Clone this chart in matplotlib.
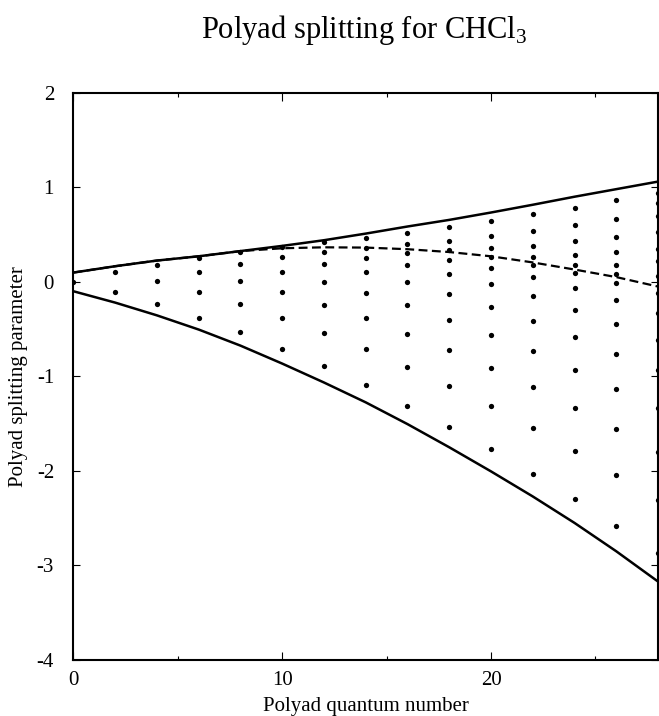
import numpy as np
import matplotlib
matplotlib.use('Agg')
from matplotlib import pyplot as plt
from matplotlib.ticker import MultipleLocator

plt.rcParams['font.family'] = ['Liberation Serif', 'DejaVu Serif']
plt.rcParams['mathtext.fontset'] = 'custom'
plt.rcParams['mathtext.rm'] = 'Liberation Serif'
plt.rcParams['axes.unicode_minus'] = False

# polyad quantum number for curves and level columns
polyad_n = [0, 2, 4, 6, 8, 10, 12, 14, 16, 18, 20, 22, 24, 26, 28]

# envelope curves
upper_bound = [0.098, 0.165, 0.225, 0.27, 0.325, 0.38, 0.44, 0.51, 0.585, 0.655, 0.733, 0.815, 0.90, 0.98, 1.06]
lower_bound = [-0.10, -0.22, -0.355, -0.505, -0.675, -0.865, -1.065, -1.275, -1.505, -1.75, -2.005, -2.27, -2.55, -2.85, -3.17]
dashed_curve = [0.098, 0.165, 0.225, 0.27, 0.325, 0.355, 0.365, 0.362, 0.345, 0.315, 0.27, 0.205, 0.13, 0.05, -0.05]

# splitting parameter of each level in a polyad
levels = [
    [0.0],
    [0.103, -0.109],
    [0.18, 0.005, -0.235],
    [0.257, 0.103, -0.109, -0.378],
    [0.32, 0.19, 0.007, -0.236, -0.536],
    [0.367, 0.261, 0.106, -0.109, -0.378, -0.709],
    [0.416, 0.32, 0.19, 0.003, -0.24, -0.54, -0.892],
    [0.46, 0.36, 0.257, 0.103, -0.116, -0.384, -0.712, -1.09],
    [0.515, 0.402, 0.307, 0.18, -0.007, -0.25, -0.547, -0.903, -1.309],
    [0.575, 0.434, 0.335, 0.236, 0.081, -0.13, -0.399, -0.723, -1.104, -1.534],
    [0.646, 0.483, 0.357, 0.261, 0.151, -0.028, -0.265, -0.561, -0.914, -1.316, -1.771],
    [0.716, 0.536, 0.384, 0.261, 0.183, 0.05, -0.155, -0.416, -0.737, -1.114, -1.545, -2.032],
    [0.786, 0.6, 0.427, 0.286, 0.177, 0.095, -0.067, -0.293, -0.579, -0.928, -1.33, -1.785, -2.30],
    [0.868, 0.663, 0.476, 0.314, 0.18, 0.081, -0.014, -0.194, -0.448, -0.759, -1.132, -1.556, -2.042, -2.579],
    [0.938, 0.833, 0.691, 0.532, 0.349, 0.215, 0.063, -0.12, -0.331, -0.614, -0.931, -1.336, -1.796, -2.307, -2.871],
]

xs = []
ys = []
for n, col in zip(polyad_n, levels):
    xs += [n] * len(col)
    ys += col

fig = plt.figure(figsize=(6.59, 7.16), dpi=100)
ax = fig.add_axes([0.1115, 0.0782, 0.887, 0.7923])

ax.plot(polyad_n, upper_bound, color='black', lw=1.8)
ax.plot(polyad_n, lower_bound, color='black', lw=1.8)
ax.plot(polyad_n, dashed_curve, color='black', lw=1.6, dashes=(4, 2))
ax.plot(xs, ys, 'o', color='black', ms=3.8, mew=0)

ax.set_xlim(0, 28)
ax.set_ylim(-4, 2)
ax.xaxis.set_major_locator(MultipleLocator(10))
ax.xaxis.set_minor_locator(MultipleLocator(5))
ax.yaxis.set_major_locator(MultipleLocator(1))

ax.tick_params(which='both', direction='in', top=True, right=True, labelsize=15, width=0.8)
ax.tick_params(axis='x', which='major', length=5.5, pad=8)
ax.tick_params(axis='x', which='minor', length=3)
ax.tick_params(axis='y', which='major', length=5, pad=14)
for s in ax.spines.values():
    s.set_linewidth(1.5)

ax.set_xlabel('Polyad quantum number', fontsize=15, labelpad=5)
ax.set_ylabel('Polyad splitting parameter', fontsize=15, labelpad=6)
fig.text(0.553, 0.958, 'Polyad splitting for CHCl$_3$', fontsize=22, ha='center', va='center')

plt.savefig('out.png', dpi=100)
